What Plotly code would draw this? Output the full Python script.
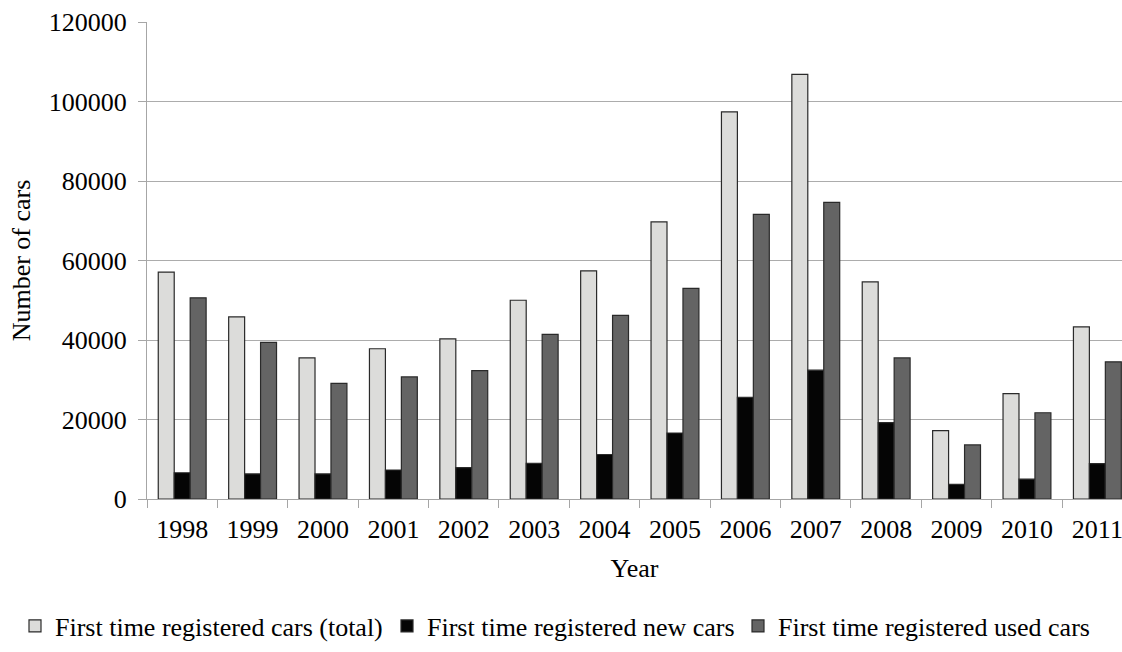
import plotly.graph_objects as go

years = ["1998", "1999", "2000", "2001", "2002", "2003", "2004",
         "2005", "2006", "2007", "2008", "2009", "2010", "2011"]
total_cars = [57100, 45800, 35500, 37800, 40300, 50000, 57400,
              69700, 97400, 106800, 54600, 17200, 26500, 43300]
new_cars = [6600, 6300, 6300, 7300, 7900, 9000, 11200,
            16600, 25600, 32400, 19200, 3700, 5000, 8900]
used_cars = [50600, 39400, 29100, 30700, 32300, 41400, 46200,
             53000, 71600, 74600, 35500, 13600, 21700, 34500]

series = [
    ("First time registered cars (total)", total_cars, "#dcdcda"),
    ("First time registered new cars", new_cars, "#050505"),
    ("First time registered used cars", used_cars, "#646464"),
]

FONT = "Liberation Serif, Times New Roman, serif"
FS = 26
W, H = 1122, 652

# one legend box per series, laid out in a single row under the axis title
legend_ids = ["legend", "legend2", "legend3"]
legend_left_px = [15, 387, 738]

fig = go.Figure()
for (name, vals, color), lid in zip(series, legend_ids):
    fig.add_trace(go.Bar(
        x=years, y=vals, name=name, legend=lid,
        marker=dict(color=color, line=dict(color="#2a2a2a", width=1.2)),
    ))

legend_common = dict(orientation="h", xref="container", yref="container",
                      xanchor="left", y=1 - 626 / H, yanchor="middle",
                      font=dict(family=FONT, size=FS, color="black"),
                      itemwidth=30, bgcolor="rgba(0,0,0,0)")

fig.update_layout(
    width=W, height=H,
    barmode="group", bargap=0.32, bargroupgap=0,
    plot_bgcolor="white", paper_bgcolor="white",
    margin=dict(l=147, r=0, t=22, b=153, autoexpand=False),
    font=dict(family=FONT, size=FS, color="black"),
    showlegend=True,
    **{lid: dict(x=px / W, **legend_common) for lid, px in zip(legend_ids, legend_left_px)},
)

fig.update_xaxes(
    range=[-0.5, 13.35],
    showline=True, linecolor="#a6a6a6", linewidth=1,
    ticks="outside", tickson="boundaries", ticklen=8, tickcolor="#a6a6a6",
    ticklabelstandoff=7,
    tickfont=dict(family=FONT, size=FS, color="black"),
    title=dict(text="Year", font=dict(family=FONT, size=FS, color="black"), standoff=15),
    showgrid=False,
)
fig.update_yaxes(
    range=[0, 120000], dtick=20000, tickformat="d",
    showline=True, linecolor="#a6a6a6", linewidth=1,
    ticks="outside", ticklen=8, tickcolor="#a6a6a6",
    ticklabelstandoff=6,
    showgrid=True, gridcolor="#acacac", gridwidth=1,
    tickfont=dict(family=FONT, size=FS, color="black"),
    title=dict(text="Number of cars", font=dict(family=FONT, size=FS, color="black"), standoff=10),
    zeroline=False,
)

fig.write_html("out.html")
